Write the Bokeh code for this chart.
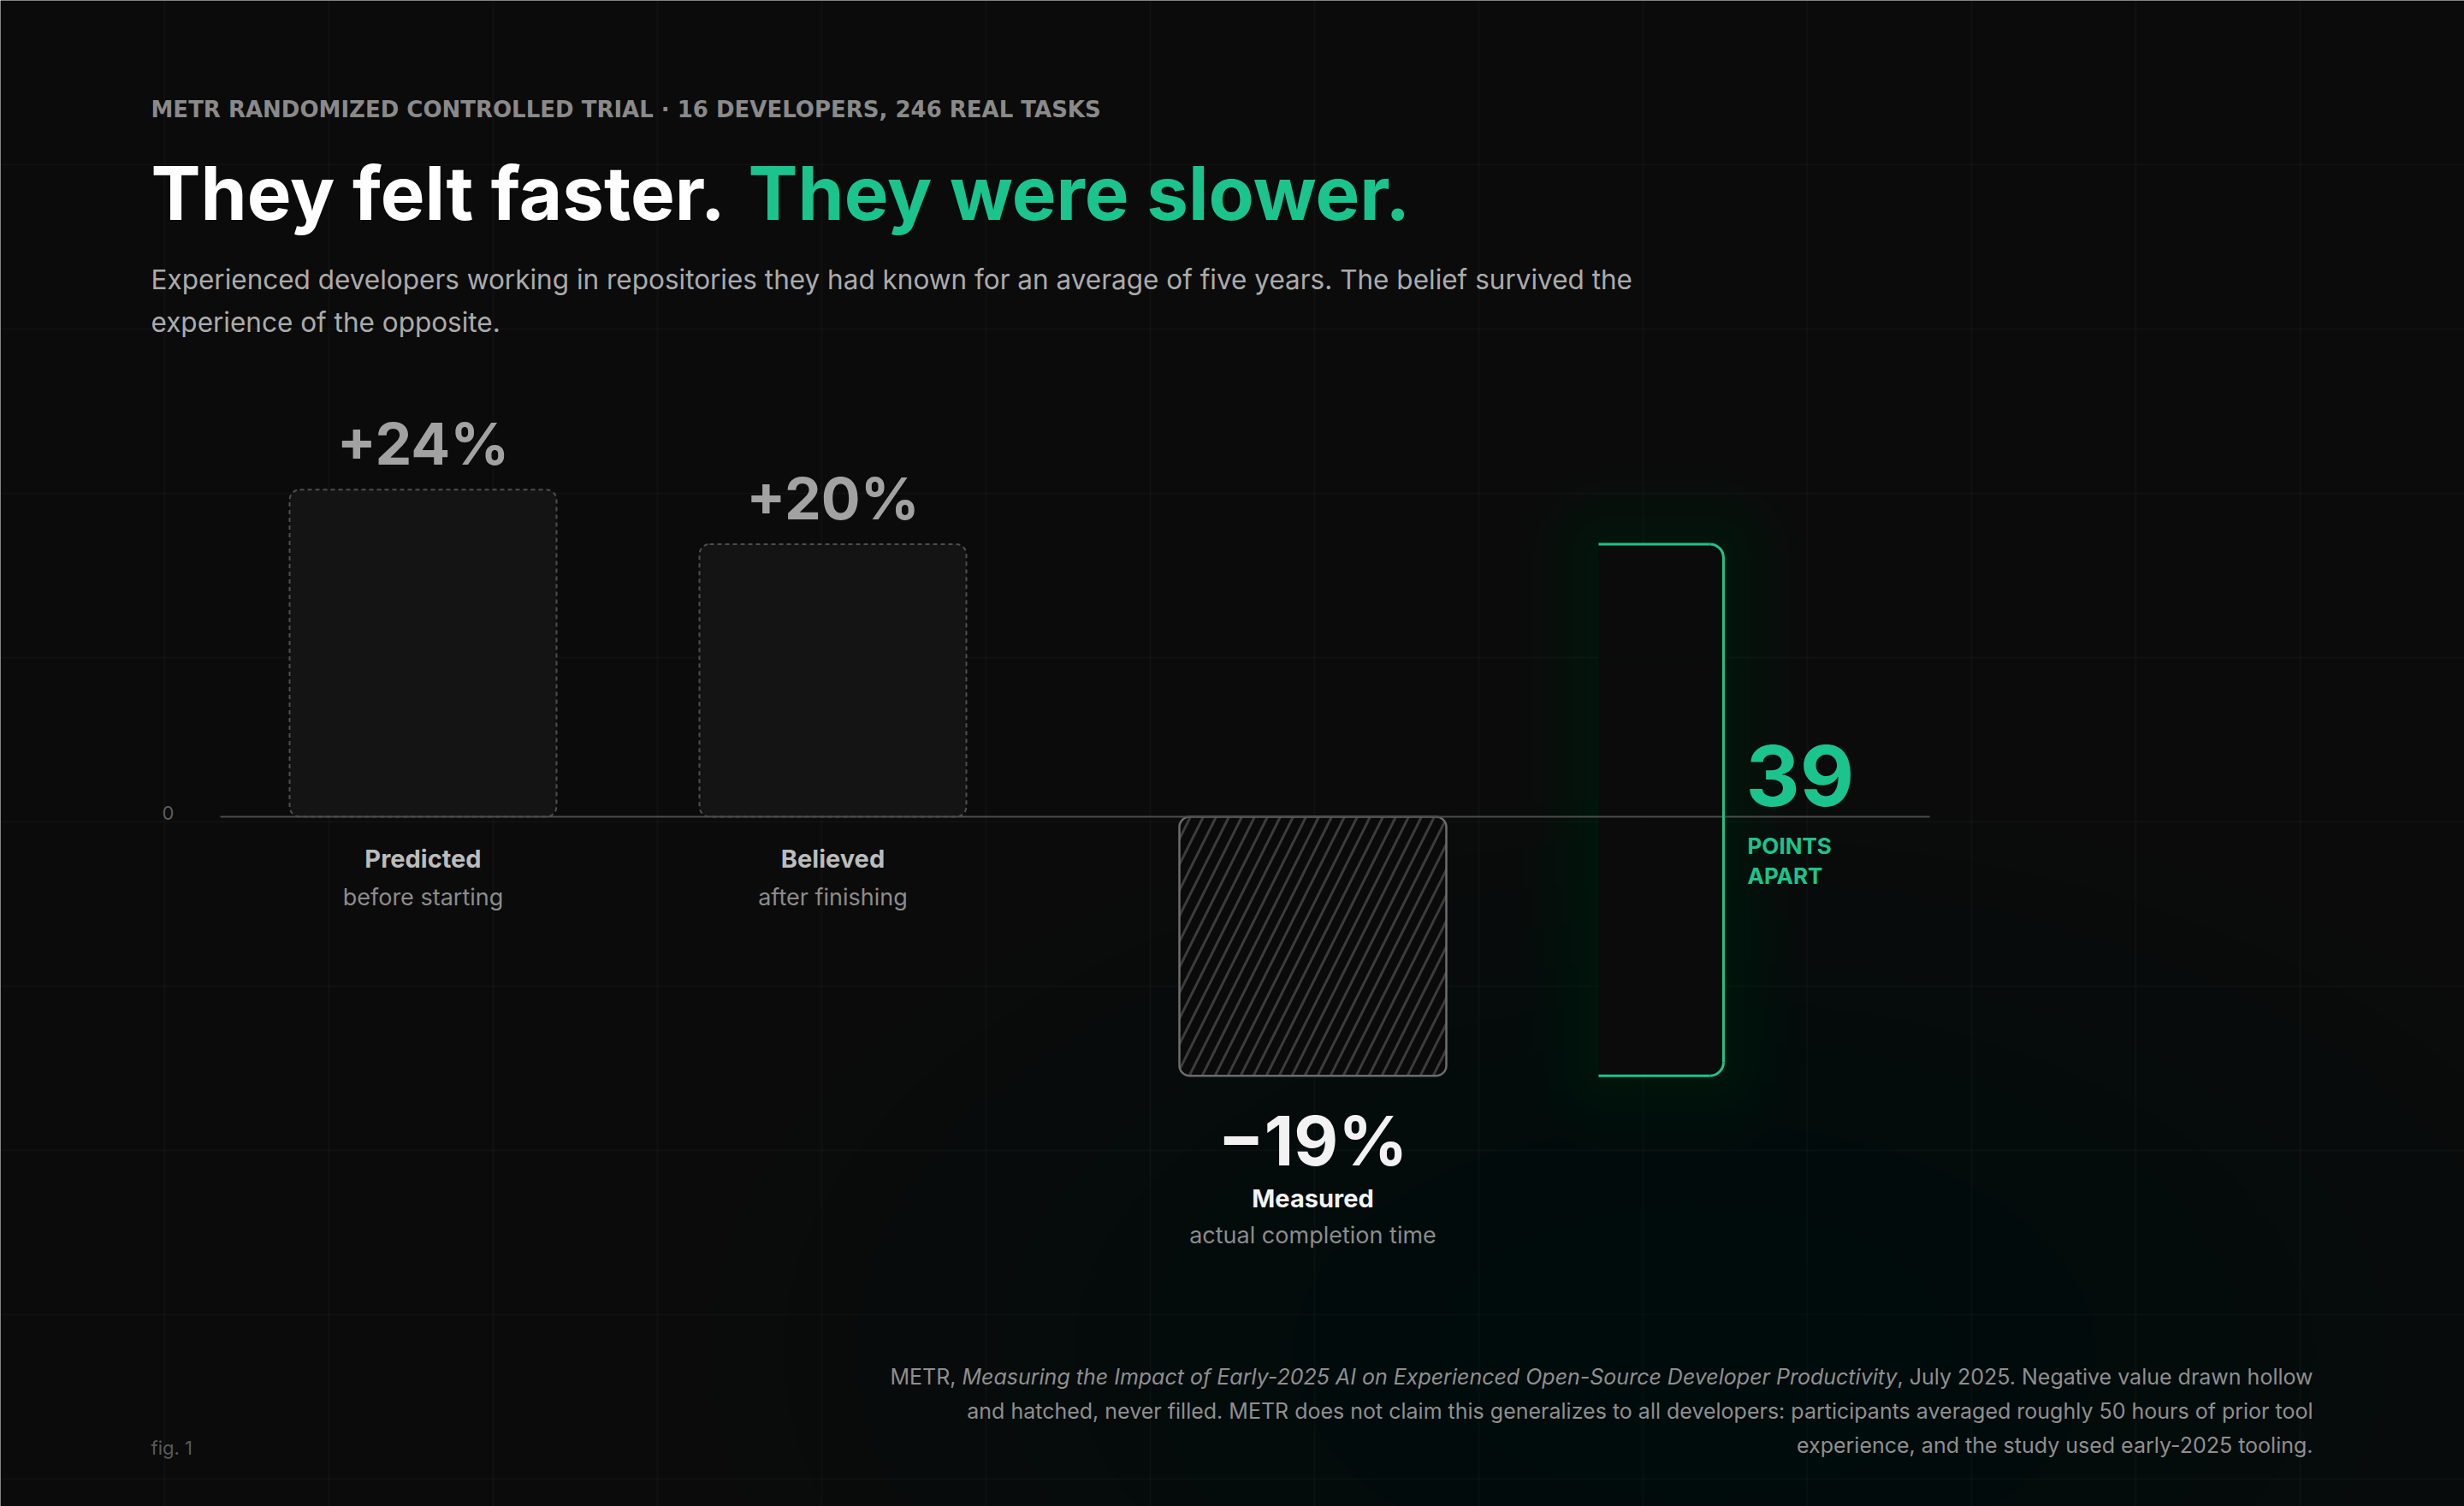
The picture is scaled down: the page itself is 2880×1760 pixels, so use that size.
import math
from bokeh.plotting import figure
from bokeh.models import Range1d, Grid, FixedTicker
from bokeh.core.properties import value
from bokeh.embed import file_html
from bokeh.resources import INLINE

# ---------------- data ----------------
categories = ["Predicted", "Believed", "Measured"]
sublabels = ["before starting", "after finishing", "actual completion time"]
values = [24, 20, -19]
value_labels = ["+24%", "+20%", "\u221219%"]
zero_label = ["0"]
gap_label = "39"
gap_words = ["POINTS", "APART"]

overline = "METR RANDOMIZED CONTROLLED TRIAL \u00b7 16 DEVELOPERS, 246 REAL TASKS"
title_a = "They felt faster."
title_b = "They were slower."
subtitle = ["Experienced developers working in repositories they had known for an average of five years. The belief survived the",
            "experience of the opposite."]
foot_l1 = ["METR,", "Measuring the Impact of Early-2025 AI on Experienced Open-Source Developer Productivity",
           ", July 2025. Negative value drawn hollow"]
foot_rest = ["and hatched, never filled. METR does not claim this generalizes to all developers: participants averaged roughly 50 hours of prior tool",
             "experience, and the study used early-2025 tooling."]
fig_label = "fig. 1"

# ---------------- layout / style ----------------
W, H = 2880, 1760
OFF = 0
K = 15.93          # px per percentage point
ZERO_SY = 954      # screen y of zero line
BG = "#0b0b0b"
GREEN = "#1bc48d"
FONT = value("Inter")
BASE_FIX = 0.38    # baseline correction (fraction of font size)

def X(sx):
    return sx - OFF

def Y(sy):
    return (ZERO_SY - sy) / K

def TY(sy, size):
    """data y for a text whose baseline should sit at screen y `sy`"""
    return Y(sy - BASE_FIX * size)

def dy(px, size):
    return (px + BASE_FIX * size) / K

p = figure(width=W, height=H, x_range=Range1d(0, W), y_range=Range1d(Y(OFF + H), Y(OFF)),
           x_axis_type=None, y_axis_type=None, toolbar_location=None, output_backend="svg",
           min_border=0, min_border_left=0, min_border_right=0, min_border_top=0, min_border_bottom=0,
           background_fill_color=BG, border_fill_color=BG, outline_line_color=None)
p.title.visible = False

def txt(xs, ys, texts, size, color, align="left", style=None, font=FONT):
    kw = dict(x=xs, y=ys, text=texts, text_font=font, text_font_size=value(f"{size}px"),
              text_color=color, text_align=align, text_baseline="alphabetic")
    if style is not None:
        kw["text_font_style"] = style
    return p.text(**kw)

# faint background grid
p.add_layout(Grid(dimension=0, ticker=FixedTicker(ticks=[X(192 * i) for i in range(1, 15)]),
                  grid_line_color="#ffffff", grid_line_alpha=0.028, grid_line_width=2))
p.add_layout(Grid(dimension=1, ticker=FixedTicker(ticks=[Y(192 * i) for i in range(1, 10)]),
                  grid_line_color="#ffffff", grid_line_alpha=0.028, grid_line_width=2))

# bottom green glow
n = 13
p.ellipse(x=[X(1980)] * n, y=[Y(1580)] * n,
          width=[260 + 170 * i for i in range(n)], height=[160 + 95 * i for i in range(n)],
          width_units="screen", height_units="screen",
          fill_color=GREEN, fill_alpha=0.0052, line_color=None)

# bar geometry
centers = [X(494), X(973), X(1534)]
bw = 312

# bracket glow
bx0, bx1 = X(1868), X(2014)
btop, bbot = values[1], values[2]
for e in [90, 76, 63, 52, 42, 33, 25, 18, 11, 5]:
    p.quad(left=[bx0 - e], right=[bx1 + e], top=[btop + e / K], bottom=[bbot - e / K],
           border_radius=16 + e, fill_color=GREEN, fill_alpha=0.009, line_color=None)
p.quad(left=[bx0], right=[bx1], top=[btop], bottom=[bbot], border_radius=(0, 16, 16, 0),
       fill_color=BG, fill_alpha=0.92, line_color=None)

# positive bars (hollow, dashed)
pos = [i for i, v in enumerate(values) if v >= 0]
neg = [i for i, v in enumerate(values) if v < 0]
p.vbar(x=[centers[i] for i in pos], top=[values[i] for i in pos], bottom=0, width=bw,
       border_radius=12, fill_color="#141414", line_color="#4e4e4e", line_width=2, line_dash="5 4")
# negative bar (hatched)
p.vbar(x=[centers[i] for i in neg], top=0, bottom=[values[i] for i in neg], width=bw,
       border_radius=12, fill_color="#0a0a0a", hatch_pattern="/", hatch_color="#3c3c3c",
       hatch_scale=30, hatch_weight=3, line_color="#6c6c6c", line_width=2.5)

# zero line
p.segment(x0=[X(257)], x1=[X(2255)], y0=[0], y1=[0], line_color="#4c4c4c", line_width=2)

# bracket
r = 16
gc = GREEN
p.segment(x0=[bx0, bx1, bx0], x1=[bx1 - r, bx1, bx1 - r],
          y0=[btop, btop - r / K, bbot], y1=[btop, bbot + r / K, bbot],
          line_color=gc, line_width=3)
p.arc(x=[bx1 - r], y=[btop - r / K], radius=r, radius_units="screen",
      start_angle=0, end_angle=math.pi / 2, line_color=gc, line_width=3)
p.arc(x=[bx1 - r], y=[bbot + r / K], radius=r, radius_units="screen",
      start_angle=-math.pi / 2, end_angle=0, line_color=gc, line_width=3)

txt([X(203)], [TY(958, 22)], zero_label, 22, "#5e5e5e", align="right")

# ---- header ----
txt([X(176)], [TY(137, 26)], [overline], 26, "#8a8a8a", style="bold", font=value("DejaVu Sans"))
txt([X(176)], [TY(258, 87)], [title_a], 87, "#ffffff", style="bold")
txt([X(874)], [TY(258, 87)], [title_b], 87, GREEN, style="bold")
txt([X(176), X(176)], [TY(338, 31.5), TY(388, 31.5)], subtitle, 31.5, "#ababab")

# ---- bar labels ----
for i in pos:
    txt([centers[i]], [values[i] + dy(28, 68)], [value_labels[i]], 68, "#a2a2a2", align="center", style="bold")
    txt([centers[i]], [TY(1014, 29)], [categories[i]], 29, "#bcbcbc", align="center", style="bold")
    txt([centers[i]], [TY(1058, 27)], [sublabels[i]], 27, "#8c8c8c", align="center")
for i in neg:
    txt([centers[i]], [values[i] - (106 - BASE_FIX * 80) / K], [value_labels[i]], 80, "#f2f2f2",
        align="center", style="bold")
    txt([centers[i]], [values[i] - (154 - BASE_FIX * 29) / K], [categories[i]], 29, "#f2f2f2",
        align="center", style="bold")
    txt([centers[i]], [values[i] - (197 - BASE_FIX * 27) / K], [sublabels[i]], 27, "#8c8c8c",
        align="center")

# ---- footer ----
FC = "#8f8f8f"
FS = 25
txt([X(1117)], [TY(1618, FS)], [foot_l1[0]], FS, FC, align="right")
txt([X(2217)], [TY(1618, FS)], [foot_l1[1]], FS, FC, align="right", style="italic")
txt([X(2703)], [TY(1618, FS)], [foot_l1[2]], FS, FC, align="right")
txt([X(2703), X(2703)], [TY(1658, FS), TY(1698, FS)], foot_rest, FS, FC, align="right")
txt([X(176)], [TY(1700, 22)], [fig_label], 22, "#5a5a5a")

# ---- gap annotation ----
txt([X(2042), X(2042)], [TY(998, 26), TY(1033, 26)], gap_words, 26, GREEN, style="bold")
txt([X(2040)], [TY(943, 98)], [gap_label], 98, GREEN, style="bold")

open("out.html", "w").write(file_html(p, INLINE))
